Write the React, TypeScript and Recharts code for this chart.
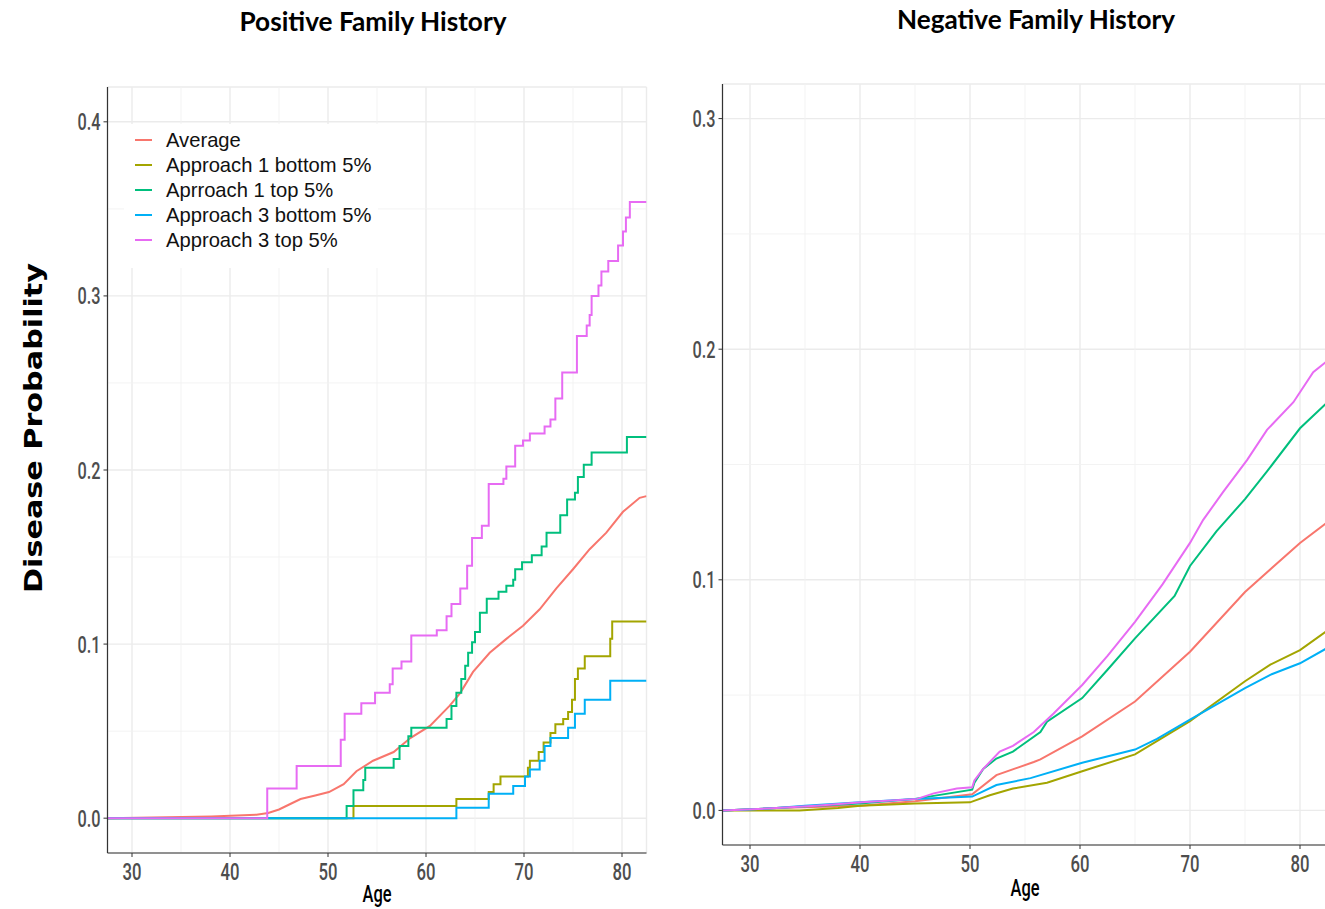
import React from 'react';
import { LineChart, Line, XAxis, YAxis, CartesianGrid, ReferenceLine, ReferenceArea, Legend, Label } from 'recharts';

// ---- series meta ----
const seriesNames = ['Average', 'Approach 1 bottom 5%', 'Aprroach 1 top 5%', 'Approach 3 bottom 5%', 'Approach 3 top 5%'];
const seriesColors = ['#F8766D', '#A3A500', '#00BF7D', '#00B0F6', '#E76BF3'];

// ---- axes ----
const xTicks = [30, 40, 50, 60, 70, 80];
const xMinor = [35, 45, 55, 65, 75];
const posYTicks = [0, 0.1, 0.2, 0.3, 0.4];
const posYMinor = [0.05, 0.15, 0.25, 0.35];
const negYTicks = [0, 0.1, 0.2, 0.3];
const negYMinor = [0.05, 0.15, 0.25];

// ---- Positive family history: [age, probability] ----
const posAverage = [[27.5, 0], [38.1, 0.001], [42.7, 0.002], [43.9, 0.003], [45.0, 0.005], [46.1, 0.008], [47.2, 0.011], [48.7, 0.013], [50.1, 0.015], [51.6, 0.0195], [52.9, 0.027], [54.6, 0.033], [56.7, 0.038], [58.4, 0.046], [60.4, 0.053], [62.4, 0.0645], [63.5, 0.072], [64.8, 0.084], [66.5, 0.095], [68.2, 0.103], [69.9, 0.1105], [71.6, 0.12], [73.3, 0.132], [75.0, 0.143], [76.7, 0.1545], [78.4, 0.164], [80.1, 0.176], [81.8, 0.184], [82.5, 0.185]];
const posA1Bottom = [[27.5, 0], [52.6, 0.007], [63.1, 0.011], [66.4, 0.015], [66.9, 0.0195], [67.6, 0.024], [70.4, 0.029], [70.6, 0.033], [71.5, 0.038], [72.0, 0.0435], [72.7, 0.049], [73.2, 0.054], [74.0, 0.057], [74.5, 0.061], [74.9, 0.068], [75.2, 0.08], [75.5, 0.086], [76.2, 0.093], [78.8, 0.103], [79.0, 0.113], [82.5, 0.113]];
const posA1Top = [[27.5, 0], [51.9, 0.007], [52.6, 0.016], [53.6, 0.022], [53.8, 0.029], [56.7, 0.034], [57.3, 0.0415], [58.2, 0.047], [58.5, 0.052], [62.1, 0.057], [62.6, 0.0645], [63.1, 0.072], [63.6, 0.08], [64.0, 0.0875], [64.3, 0.095], [64.7, 0.101], [65.0, 0.107], [65.5, 0.118], [66.2, 0.126], [67.4, 0.13], [68.2, 0.1335], [68.9, 0.137], [69.1, 0.143], [69.8, 0.147], [70.8, 0.151], [71.8, 0.156], [72.3, 0.164], [73.7, 0.174], [74.4, 0.183], [75.2, 0.187], [75.5, 0.196], [76.1, 0.203], [76.9, 0.21], [80.5, 0.219], [82.5, 0.219]];
const posA3Bottom = [[27.5, 0], [63.1, 0.006], [66.4, 0.014], [68.9, 0.0185], [70.1, 0.024], [70.6, 0.028], [71.6, 0.033], [72.1, 0.0415], [72.7, 0.046], [74.5, 0.052], [75.2, 0.06], [76.2, 0.068], [78.8, 0.079], [82.5, 0.079]];
const posA3Top = [[27.5, 0], [43.8, 0.017], [46.8, 0.03], [51.3, 0.045], [51.7, 0.06], [53.4, 0.066], [54.8, 0.072], [56.3, 0.077], [56.6, 0.086], [57.5, 0.09], [58.5, 0.105], [61.1, 0.108], [62.1, 0.116], [62.6, 0.123], [63.5, 0.132], [64.2, 0.145], [64.7, 0.161], [65.7, 0.168], [66.4, 0.192], [67.9, 0.195], [68.2, 0.202], [69.1, 0.214], [69.9, 0.217], [70.6, 0.221], [72.1, 0.225], [72.7, 0.229], [73.2, 0.241], [73.9, 0.256], [75.4, 0.277], [76.4, 0.283], [76.7, 0.289], [76.9, 0.3], [77.6, 0.306], [77.9, 0.314], [78.6, 0.32], [79.6, 0.329], [80.1, 0.337], [80.4, 0.345], [80.8, 0.354], [82.5, 0.354]];

// ---- Negative family history: [age, probability] ----
const negAverage = [[27.5, 0], [32.4, 0.001], [40, 0.002], [45, 0.004], [50.2, 0.007], [52.4, 0.0153], [55.8, 0.021], [56.4, 0.0221], [60.2, 0.0321], [65, 0.0472], [70, 0.0688], [75, 0.0947], [80, 0.116], [82.5, 0.125]];
const negA1Bottom = [[27.5, 0], [34.5, 0], [38, 0.001], [40, 0.002], [45, 0.003], [50, 0.0035], [51.8, 0.0066], [53.9, 0.0095], [57, 0.012], [60.2, 0.017], [65, 0.0243], [70, 0.0387], [75, 0.056], [77.3, 0.0632], [80, 0.0695], [82.5, 0.078]];
const negA1Top = [[27.5, 0], [32.4, 0.001], [40, 0.003], [45, 0.005], [50.2, 0.009], [50.4, 0.012], [51.2, 0.018], [52.4, 0.0225], [53.9, 0.0255], [56.4, 0.034], [57, 0.0385], [60.2, 0.0487], [62.5, 0.061], [65, 0.0746], [68.6, 0.093], [70, 0.106], [72.4, 0.121], [75, 0.135], [77, 0.147], [80, 0.1657], [82.5, 0.177]];
const negA3Bottom = [[27.5, 0], [32.4, 0.001], [35, 0.002], [40, 0.0035], [45, 0.005], [50.2, 0.006], [52.4, 0.011], [55.5, 0.014], [60.2, 0.0207], [65, 0.0264], [67, 0.031], [70, 0.0394], [75, 0.053], [77.3, 0.0588], [80, 0.0638], [82.5, 0.0705]];
const negA3Top = [[27.5, 0], [32.4, 0.001], [36, 0.002], [40.2, 0.0035], [45.2, 0.005], [46.7, 0.0074], [48.8, 0.0095], [50.2, 0.01], [50.4, 0.013], [51.2, 0.018], [52.7, 0.0255], [53.9, 0.028], [55.8, 0.034], [57.6, 0.042], [60.2, 0.0544], [62.5, 0.067], [65, 0.0818], [67.5, 0.098], [70, 0.116], [71.2, 0.126], [73, 0.138], [75.2, 0.152], [77, 0.165], [79.4, 0.177], [81.2, 0.19], [82.5, 0.195]];

const posSeries = [posAverage, posA1Bottom, posA1Top, posA3Bottom, posA3Top];
const negSeries = [negAverage, negA1Bottom, negA1Top, negA3Bottom, negA3Top];

const toRows = (pairs: number[][]) => pairs.map(([age, p]) => ({ age, p }));

const tickFont = 'Roboto, "Liberation Sans", sans-serif';

const XTick = (props: any) => {
  const { x, y, payload } = props;
  return (
    <text x={x} y={y + 19} textAnchor="middle" fontFamily={tickFont} fontWeight={500} fontSize={24} fill="#4d4d4d" textLength={19} lengthAdjust="spacingAndGlyphs">
      {String(payload.value)}
    </text>
  );
};

const YTick = (props: any) => {
  const { x, y, payload } = props;
  return (
    <text x={x} y={y + 8.5} textAnchor="end" fontFamily={tickFont} fontWeight={500} fontSize={24} fill="#4d4d4d" textLength={23} lengthAdjust="spacingAndGlyphs">
      {Number(payload.value).toFixed(1)}
    </text>
  );
};

const makeAgeLabel = (dy: number) => (props: any) => {
  const vb = props.viewBox || {};
  const cx = vb.x + vb.width / 2;
  const top = vb.y + vb.height;
  return (
    <text x={cx} y={top + dy} textAnchor="middle" fontFamily={tickFont} fontWeight={500} fontSize={23} fill="#000" textLength={29} lengthAdjust="spacingAndGlyphs">
      Age
    </text>
  );
};

const LegendBox = () => (
  <div style={{ background: '#fff', width: 254, height: 144, boxSizing: 'border-box', paddingTop: 4, paddingLeft: 11 }}>
    {seriesNames.map((n, i) => (
      <div key={n} style={{ display: 'flex', alignItems: 'center', height: 24.8 }}>
        <div style={{ width: 17, height: 2, background: seriesColors[i] }} />
        <span style={{ marginLeft: 14, fontFamily: '"Liberation Sans", Arial, sans-serif', fontSize: 20.2, color: '#111', lineHeight: '24px', whiteSpace: 'nowrap' }}>{n}</span>
      </div>
    ))}
  </div>
);

type PanelProps = {
  series: number[][][];
  yTicks: number[];
  yMinor: number[];
  yDomain: [number, number];
  margin: { top: number; right: number; bottom: number; left: number };
  lineType: 'stepAfter' | 'linear';
  showLegend: boolean;
  ageDy: number;
};

const Panel = ({ series, yTicks, yMinor, yDomain, margin, lineType, showLegend, ageDy }: PanelProps) => {
  const AgeLabel = makeAgeLabel(ageDy);
  return (
    <LineChart width={700} height={909} margin={margin}>
      <CartesianGrid stroke="#ebebeb" strokeWidth={1.4} />
      {xMinor.map((v) => (
        <ReferenceLine key={'xm' + v} x={v} stroke="#f2f2f2" strokeWidth={0.9} />
      ))}
      {yMinor.map((v) => (
        <ReferenceLine key={'ym' + v} y={v} stroke="#f2f2f2" strokeWidth={0.9} />
      ))}
      <XAxis
        type="number"
        dataKey="age"
        domain={[27.5, 82.5]}
        ticks={xTicks}
        allowDataOverflow
        height={30}
        tick={<XTick />}
        tickSize={4}
        tickMargin={4}
        tickLine={{ stroke: '#333333' }}
        axisLine={{ stroke: '#333333', strokeWidth: 1.2 }}
      >
        <Label content={<AgeLabel />} />
      </XAxis>
      <YAxis
        type="number"
        domain={yDomain}
        ticks={yTicks}
        allowDataOverflow
        width={50}
        tick={<YTick />}
        tickSize={4}
        tickMargin={3}
        tickLine={{ stroke: '#333333' }}
        axisLine={{ stroke: '#333333', strokeWidth: 1.2 }}
      />
      {series.map((s, i) => (
        <Line
          key={seriesNames[i]}
          data={toRows(s)}
          dataKey="p"
          type={i === 0 ? 'linear' : lineType}
          stroke={seriesColors[i]}
          strokeWidth={2}
          dot={false}
          activeDot={false}
          isAnimationActive={false}
        />
      ))}
      <ReferenceArea fill="none" stroke="#333333" strokeWidth={1.2} fillOpacity={0} />
      {showLegend && (
        <Legend
          layout="vertical"
          align="center"
          verticalAlign="middle"
          wrapperStyle={{ left: 124, top: 124, width: 254, height: 144 }}
          content={() => <LegendBox />}
        />
      )}
    </LineChart>
  );
};

export default function App() {
  return (
    <div style={{ position: 'absolute', left: 0, top: 0, width: 1325, height: 909, overflow: 'hidden', background: '#fff' }}>
      <div style={{ position: 'absolute', left: 0, top: 0 }}>
        <Panel
          series={posSeries}
          yTicks={posYTicks}
          yMinor={posYMinor}
          yDomain={[-0.02, 0.42]}
          margin={{ top: 87, right: 53.5, bottom: 26, left: 57.5 }}
          lineType="stepAfter"
          showLegend
          ageDy={19}
        />
      </div>
      <div style={{ position: 'absolute', left: 660, top: 0 }}>
        <Panel
          series={negSeries}
          yTicks={negYTicks}
          yMinor={negYMinor}
          yDomain={[-0.015, 0.315]}
          margin={{ top: 84, right: 32.5, bottom: 34, left: 12.5 }}
          lineType="linear"
          showLegend={false}
          ageDy={21}
        />
      </div>
      <svg width={1325} height={909} style={{ position: 'absolute', left: 0, top: 0, pointerEvents: 'none' }}>
        <text x={373} y={31} textAnchor="middle" fontFamily="Lato, 'Open Sans', sans-serif" fontWeight={700} fontSize={27} fill="#000" textLength={267} lengthAdjust="spacingAndGlyphs">Positive Family History</text>
        <text x={1036} y={29} textAnchor="middle" fontFamily="Lato, 'Open Sans', sans-serif" fontWeight={700} fontSize={27} fill="#000" textLength={278} lengthAdjust="spacingAndGlyphs">Negative Family History</text>
        <text x={42} y={428} transform="rotate(-90 42 428)" textAnchor="middle" fontFamily="'DejaVu Sans', sans-serif" fontWeight={700} fontSize={25} fill="#000" textLength={330} lengthAdjust="spacingAndGlyphs">Disease Probability</text>
      </svg>
    </div>
  );
}
